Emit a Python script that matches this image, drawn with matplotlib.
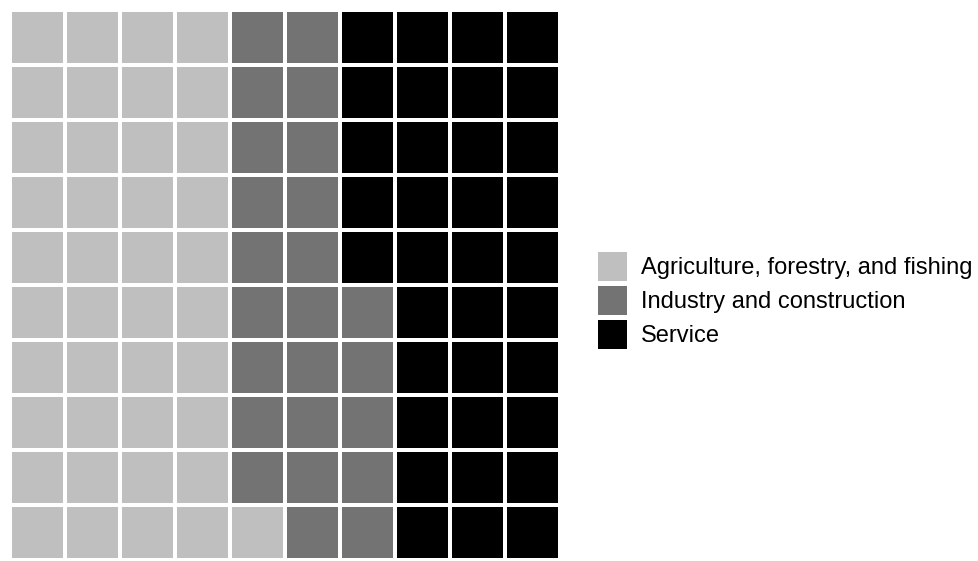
import matplotlib.pyplot as plt
from matplotlib.patches import Rectangle, Patch

plt.rcParams['font.family'] = ['Liberation Sans', 'DejaVu Sans']

# share of employment per sector, out of 100 cells
sectors = ["Agriculture, forestry, and fishing", "Industry and construction", "Service"]
counts = [41, 24, 35]
colors = ["#bfbfbf", "#737373", "#000000"]
nRows = 10
nCols = 10

fig = plt.figure(figsize=(9.79, 5.61), dpi=100)
ax = fig.add_axes([10 / 979, 1 - 560 / 561, 550 / 979, 550 / 561])

# fill the grid column by column, bottom to top
cellColors = []
for c, n in zip(colors, counts):
    cellColors += [c] * n

gap = 0.09
for i, col in enumerate(cellColors):
    x = i // nRows
    y = i % nRows
    ax.add_patch(Rectangle((x + gap / 2, y + gap / 2), 1 - gap, 1 - gap,
                           facecolor=col, edgecolor='none'))

ax.set_xlim(0, nCols)
ax.set_ylim(0, nRows)
ax.axis('off')

handles = [Patch(facecolor=c, edgecolor='none') for c in colors]
fig.legend(handles, sectors, loc='center left', bbox_to_anchor=(598 / 979, 1 - 300.5 / 561),
           frameon=False, fontsize=17, handlelength=1.216, handleheight=1.49,
           labelspacing=0.22, handletextpad=0.6, borderpad=0, borderaxespad=0)

fig.savefig("out.png", dpi=100)
